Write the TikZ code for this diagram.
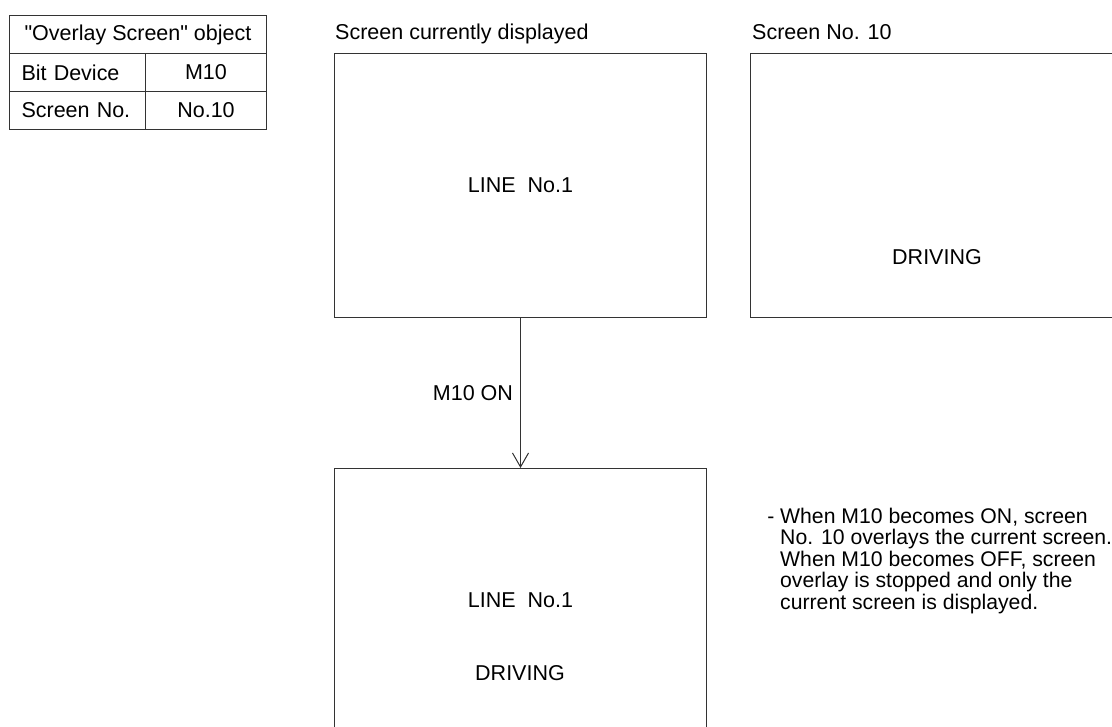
\documentclass[tikz,border=0pt]{standalone}
\usepackage{fontspec}
\setmainfont{Liberation Sans}[Ligatures=TeXOff]
\usetikzlibrary{arrows.meta}
\begin{document}
\begin{tikzpicture}[x=1pt,y=-1pt,
  every node/.style={font=\fontsize{21.5}{21.5}\selectfont, text=black},
  cell/.style={draw=black!80, line width=1pt, minimum height=38pt, inner sep=0pt, anchor=north west},
  keycell/.style={cell, minimum width=136pt, text width=112pt, inner xsep=12pt, align=left},
  screen/.style={draw=black!80, line width=1pt, minimum width=372pt, minimum height=264pt, inner sep=0pt, anchor=north west},
  lbl/.style={inner sep=0pt, anchor=base west},
  conn/.style={draw=black!80, line width=1pt, -{Straight Barb[length=14pt,width=16pt]}}]
\useasboundingbox (0,0) rectangle (1112,727);
\clip (0,0) rectangle (1112,727);
% table
\node[cell, minimum width=257pt] (title) at (9,15) {"Overlay Screen" object};
\node[keycell] (bitk) at (9,53) {Bit Device};
\node[cell, minimum width=121pt] (bitv) at (145,53) {M10};
\node[keycell] (scrk) at (9,91) {Screen No.};
\node[cell, minimum width=121pt] (scrv) at (145,91) {No.10};
% screens
\node[lbl] (cap1) at (335,40) {Screen currently displayed};
\node[screen] (cur) at (334,53) {LINE~~No.1};
\node[lbl] (cap2) at (752,40) {Screen No. 10};
\node[screen] (s10) at (750,53) {};
\node (drv1) at (937,257) {DRIVING};
\node[screen] (ovl) at (334,468) {LINE~~No.1};
\node (drv2) at (520,673) {DRIVING};
\draw[conn] (cur.south) -- node[left, inner sep=7pt] (lab) {M10 ON} (ovl.north);
% note
\node[anchor=north west, align=left, inner sep=0pt, font=\fontsize{21.2}{21.5}\selectfont] (note) at (780,507.5) {\llap{- }When M10 becomes ON, screen\\No. 10 overlays the current screen.\\When M10 becomes OFF, screen\\overlay is stopped and only the\\current screen is displayed.};
\end{tikzpicture}
\end{document}
